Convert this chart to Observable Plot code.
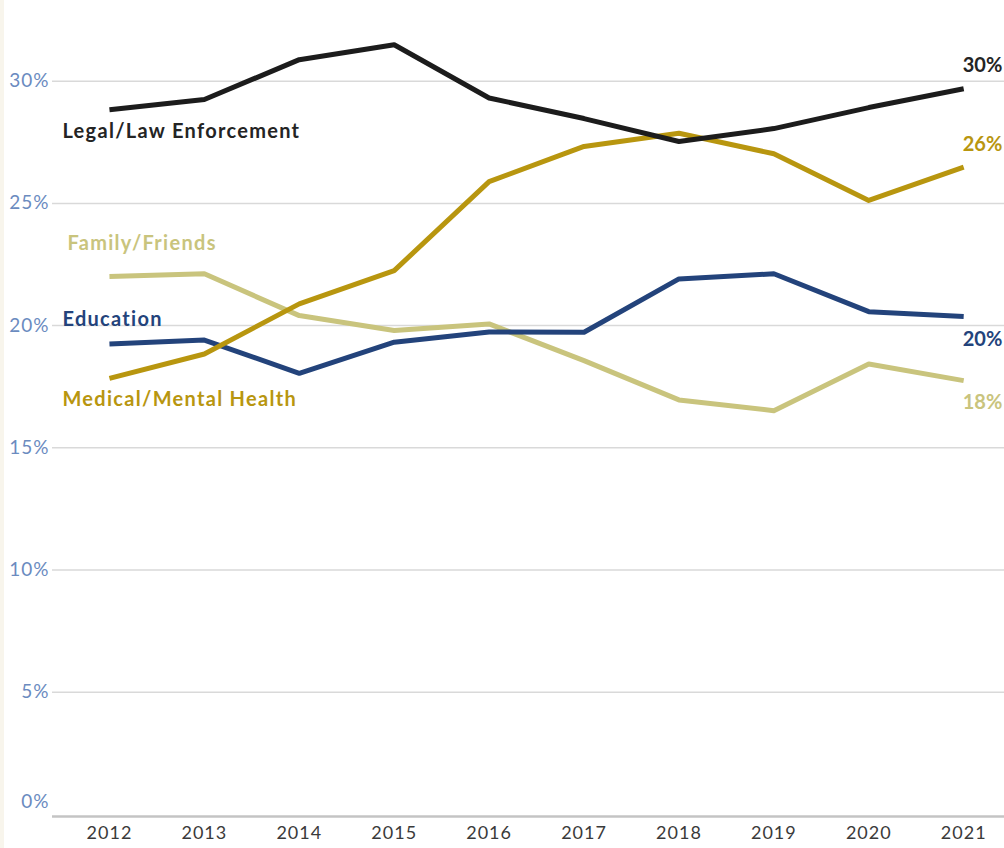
<!DOCTYPE html>
<html><head><meta charset="utf-8">
<script src="https://cdn.jsdelivr.net/npm/d3@7"></script>
<script src="https://cdn.jsdelivr.net/npm/@observablehq/plot@0.6"></script>
<style>
html,body{margin:0;padding:0;background:#fff;}
#chart{position:relative;width:1004px;height:848px;}
#strip{position:absolute;left:0;top:0;width:4px;height:848px;background:#f8f5ec;}
#chart svg{position:absolute;left:0;top:0;}
.lbl text, text.lbl, .lbl{letter-spacing:1.3px;}
.tck text, .tck{letter-spacing:1px;}
</style></head><body><div id="chart"><div id="strip"></div></div>
<script>
const years = [2012, 2013, 2014, 2015, 2016, 2017, 2018, 2019, 2020, 2021];
const legal = [28.83, 29.25, 30.88, 31.49, 29.31, 28.47, 27.53, 28.06, 28.92, 29.69];
const medical = [17.84, 18.84, 20.89, 22.25, 25.89, 27.33, 27.87, 27.03, 25.12, 26.48];
const family = [22.01, 22.12, 20.41, 19.80, 20.07, 18.57, 16.96, 16.52, 18.43, 17.75];
const education = [19.25, 19.41, 18.05, 19.32, 19.74, 19.73, 21.91, 22.12, 20.57, 20.37];
const seriesNames = ["Legal/Law Enforcement", "Medical/Mental Health", "Family/Friends", "Education"];
const yTicks = [0, 5, 10, 15, 20, 25, 30];

const seriesValues = {
  "Legal/Law Enforcement": legal,
  "Medical/Mental Health": medical,
  "Family/Friends": family,
  "Education": education
};
const style = {
  "Legal/Law Enforcement": {stroke: "#1c1c1c", text: "#242424", ldx: -47, ldy: 22, edy: -23},
  "Medical/Mental Health": {stroke: "#b8960f", text: "#b8960f", ldx: -47, ldy: 21, edy: -23},
  "Family/Friends": {stroke: "#c9c47d", text: "#c9c47d", ldx: -42, ldy: -33, edy: 22},
  "Education": {stroke: "#23437b", text: "#23437b", ldx: -47, ldy: -24, edy: 23}
};
const drawOrder = ["Family/Friends", "Education", "Medical/Mental Health", "Legal/Law Enforcement"];

const rows = name => years.map((year, i) => ({series: name, year, value: seriesValues[name][i]}));
const font = "Lato, 'Open Sans', sans-serif";

const marks = [
  Plot.gridY(yTicks.filter(d => d > 0), {stroke: "#d9d9d9", strokeOpacity: 1, strokeWidth: 1.5}),
  Plot.ruleY([0], {stroke: "#c4c4c4", strokeWidth: 2.5, dy: 2}),
  Plot.axisY(yTicks.filter(d => d > 0), {tickSize: 0, tickPadding: 3, tickFormat: d => d + "%", color: "#6b8bbf", fontSize: 19, label: null, className: "tck"}),
  Plot.axisY([0], {tickSize: 0, tickPadding: 3, tickFormat: d => d + "%", color: "#6b8bbf", fontSize: 19, label: null, dy: -13, className: "tck"}),
  Plot.axisX(years, {tickSize: 0, tickPadding: 12, tickFormat: d => String(d), color: "#3a3a3a", fontSize: 18, label: null, className: "tck"})
];
for (const name of drawOrder) {
  marks.push(Plot.line(rows(name), {x: "year", y: "value", stroke: style[name].stroke, strokeWidth: 5, strokeLinejoin: "round", strokeLinecap: "butt"}));
}
for (const name of seriesNames) {
  const first = rows(name).slice(0, 1);
  const last = rows(name).slice(-1);
  marks.push(Plot.text(first, {x: "year", y: "value", text: () => name, textAnchor: "start", dx: style[name].ldx, dy: style[name].ldy, fill: style[name].text, fontSize: 20, fontWeight: "bold", className: "lbl"}));
  marks.push(Plot.text(last, {x: "year", y: "value", text: d => Math.round(d.value) + "%", textAnchor: "start", dx: -1, dy: style[name].edy, fill: style[name].text, fontSize: 20, fontWeight: "bold", className: "end"}));
}

const chart = Plot.plot({
  width: 1004,
  height: 848,
  marginLeft: 52,
  marginRight: 0,
  marginTop: 0,
  marginBottom: 34,
  style: {fontFamily: font, background: "transparent", overflow: "visible"},
  x: {type: "linear", domain: [2011.4, 2021.43], axis: null},
  y: {domain: [0, 33.3], axis: null},
  marks
});
document.getElementById("chart").appendChild(chart);
</script>
</body></html>
